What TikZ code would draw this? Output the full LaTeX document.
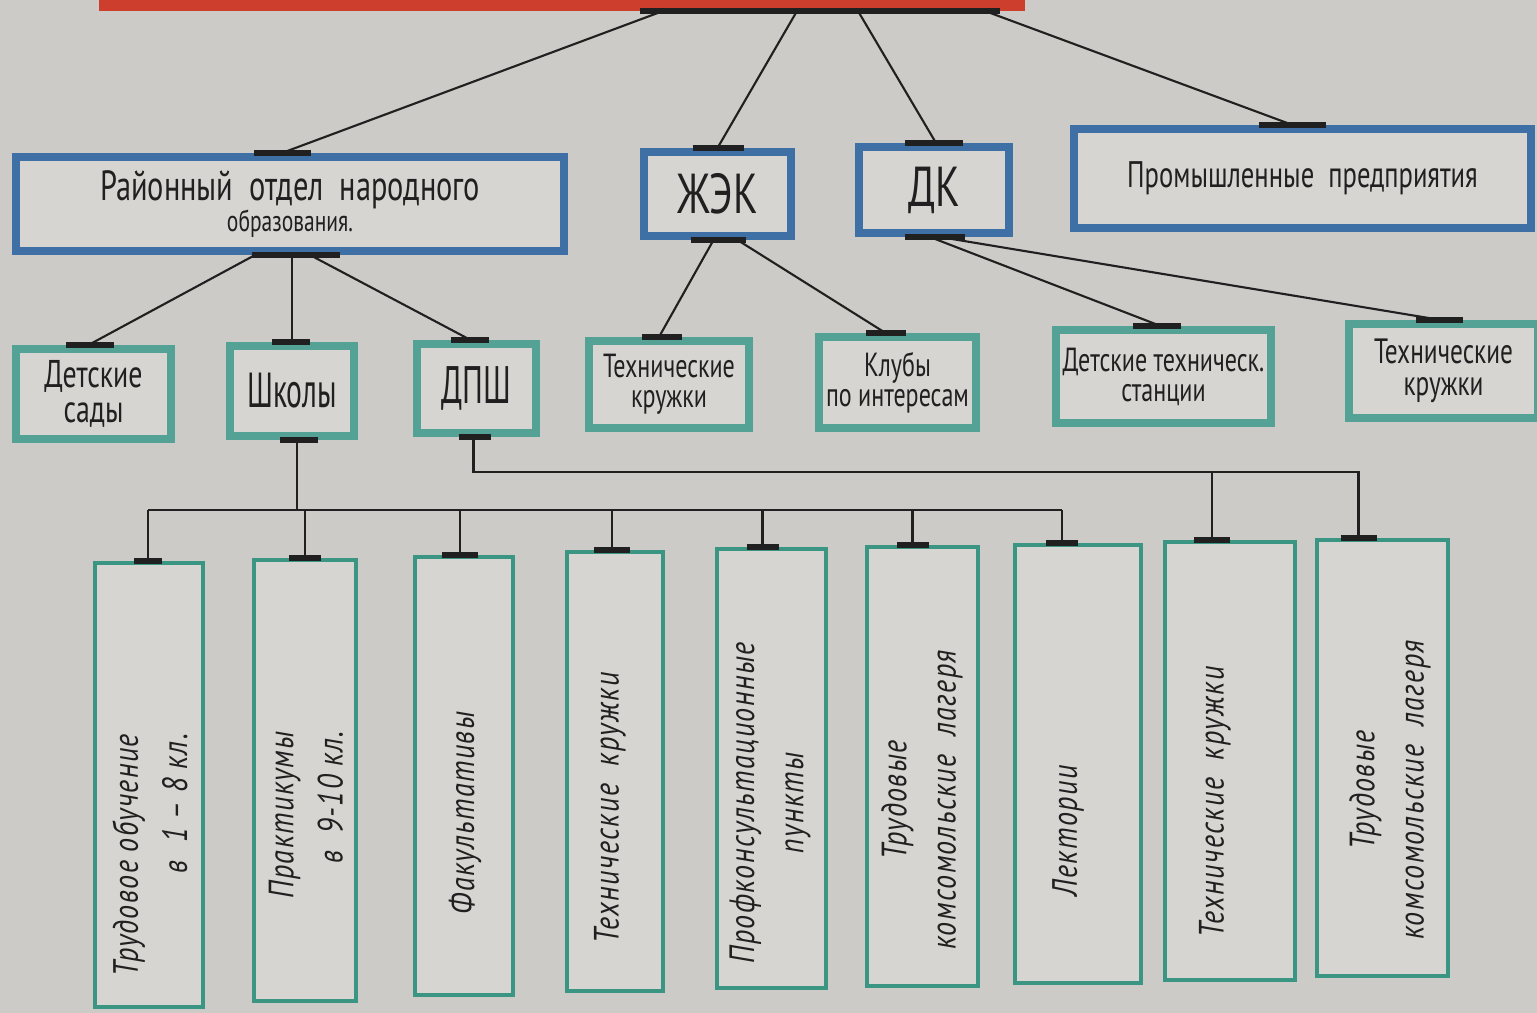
\documentclass[tikz,border=0pt]{standalone}
\usepackage{fontspec}
\setmainfont{PT Sans}[FakeStretch=0.72]
\newfontfamily\tallfont{PT Sans}[FakeStretch=0.6]
\newfontfamily\leaffont{PT Sans}[FakeStretch=0.8,LetterSpace=4]
\usetikzlibrary{calc}

\definecolor{paper}{RGB}{204,203,200}
\definecolor{boxfill}{RGB}{214,213,210}
\definecolor{headred}{RGB}{205,62,45}
\definecolor{mainblue}{RGB}{62,112,165}
\definecolor{subteal}{RGB}{84,162,150}
\definecolor{leafteal}{RGB}{58,150,130}
\definecolor{ink}{RGB}{32,32,32}

\begin{document}
\begin{tikzpicture}[
  x=0.01cm, y=-0.01cm,
  text=ink,
  headbox/.style={draw=headred, line width=0.12cm, fill=boxfill},
  mainbox/.style={
    draw=mainblue,
    line width=0.08cm,
    fill=boxfill,
    align=center,
    inner sep=0pt
  },
  subbox/.style={mainbox, draw=subteal},
  leafbox/.style={draw=leafteal, line width=0.035cm, fill=boxfill, inner sep=0pt},
  leaftext/.style={
    rotate=90,
    font=\leaffont\itshape\fontsize{10}{14}\selectfont
  },
  link/.style={draw=ink, line width=0.6pt},
  tick/.style={draw=ink, line width=1.5pt}
]
  \useasboundingbox (0,0) rectangle (1537,1013);
  \fill[paper] (0,0) rectangle (1537,1013);

  \node[headbox, minimum width=9.14cm, minimum height=0.9cm] (head) at (562,-40) {};

  \node[mainbox, minimum width=5.48cm, minimum height=0.94cm,
    font=\fontsize{12}{14}\selectfont] (rono) at (290,204)
    {Районный \ отдел \ народного\\[-5pt]{\fontsize{8.5}{10}\selectfont образования.}};
  \node[mainbox, minimum width=1.47cm, minimum height=0.84cm,
    font=\fontsize{16}{18}\selectfont] (zhek) at (717.5,194) {ЖЭК};
  \node[mainbox, minimum width=1.5cm, minimum height=0.86cm,
    font=\fontsize{16}{18}\selectfont] (dk) at (934,190) {ДК};
  \node[mainbox, minimum width=4.57cm, minimum height=0.99cm,
    font=\fontsize{10.5}{13}\selectfont] (prom) at (1302.5,178.5)
    {Промышленные \ предприятия};

  \node[subbox, minimum width=1.55cm, minimum height=0.9cm,
    font=\fontsize{11}{13}\selectfont] (sady) at (93.5,394) {Детские\\[-3pt]сады};
  \node[subbox, minimum width=1.24cm, minimum height=0.9cm,
    font=\tallfont\fontsize{14}{18}\selectfont] (shkoly) at (292,391) {Школы};
  \node[subbox, minimum width=1.19cm, minimum height=0.89cm,
    font=\tallfont\fontsize{15}{18}\selectfont] (dpsh) at (476.5,388.5) {ДПШ};
  \node[subbox, minimum width=1.6cm, minimum height=0.87cm,
    font=\fontsize{9.5}{11.5}\selectfont] (tk1) at (669,384.5) {Технические\\[-3pt]кружки};
  \node[subbox, minimum width=1.57cm, minimum height=0.91cm,
    font=\fontsize{9.5}{11.5}\selectfont] (kluby) at (897.5,382.5) {Клубы\\[-3pt]по интересам};
  \node[subbox, minimum width=2.15cm, minimum height=0.93cm,
    font=\fontsize{9.5}{11.5}\selectfont] (dts) at (1163.5,376.5) {Детские техническ.\\[-3pt]станции};
  \node[subbox, minimum width=1.89cm, minimum height=0.94cm,
    font=\fontsize{10}{12}\selectfont] (tk2) at (1443.5,371) {Технические\\[-3pt]кружки};

  \node[leafbox, minimum width=1.08cm, minimum height=4.44cm] (l1) at (149,785) {};
  \node[leafbox, minimum width=1.02cm, minimum height=4.41cm] (l2) at (305,780.5) {};
  \node[leafbox, minimum width=0.98cm, minimum height=4.38cm] (l3) at (464,776) {};
  \node[leafbox, minimum width=0.96cm, minimum height=4.39cm] (l4) at (615,771.5) {};
  \node[leafbox, minimum width=1.09cm, minimum height=4.39cm] (l5) at (771.5,768.5) {};
  \node[leafbox, minimum width=1.11cm, minimum height=4.39cm] (l6) at (922.5,766.5) {};
  \node[leafbox, minimum width=1.26cm, minimum height=4.38cm] (l7) at (1078,764) {};
  \node[leafbox, minimum width=1.3cm, minimum height=4.38cm] (l8) at (1230,761) {};
  \node[leafbox, minimum width=1.31cm, minimum height=4.36cm] (l9) at (1382.5,758) {};

  \node[leaftext, align=right] (t1) at (150,855) {Трудовое обучение\\в \ 1 – 8 кл.};
  \node[leaftext, align=right] (t2) at (306,815) {Практикумы\\в \ 9-10 кл.};
  \node[leaftext] (t3) at (465,813) {Факультативы};
  \node[leaftext] (t4) at (610,808) {Технические \ кружки};
  \node[leaftext, align=center] (t5) at (770,803) {Профконсультационные\\пункты};
  \node[leaftext, align=center] (t6) at (922,800) {Трудовые\\комсомольские \ лагеря};
  \node[leaftext] (t7) at (1068,831) {Лектории};
  \node[leaftext] (t8) at (1215,802) {Технические \ кружки};
  \node[leaftext, align=center] (t9) at (1390,790) {Трудовые\\комсомольские \ лагеря};

  \draw[tick] ($(head.south)+(78,0)$) -- +(360,0);
  \draw[link] ($(head.south)+(101,0)$) -- ($(rono.north)+(-8,0)$);
  \draw[link] ($(head.south)+(235,0)$) -- (zhek.north);
  \draw[link] ($(head.south)+(296,0)$) -- ($(dk.north)+(2,0)$);
  \draw[link] ($(head.south)+(423,0)$) -- ($(prom.north)+(-10,0)$);
  \draw[tick] ($(rono.north)+(-36,0)$) -- +(57,0);
  \draw[tick] ($(zhek.north)+(-25,0)$) -- +(51,0);
  \draw[tick] ($(dk.north)+(-29,0)$) -- +(58,0);
  \draw[tick] ($(prom.north)+(-44,0)$) -- +(67,0);

  \draw[tick] ($(rono.south)+(-38,0)$) -- +(88,0);
  \draw[link] ($(rono.south)+(-35,0)$) -- ($(sady.north)+(-5,0)$);
  \draw[link] (shkoly.north |- rono.south) -- (shkoly.north);
  \draw[link] ($(rono.south)+(20,0)$) -- ($(dpsh.north)+(-6,0)$);
  \draw[tick] ($(sady.north)+(-28,0)$) -- +(48,0);
  \draw[tick] ($(shkoly.north)+(-20,0)$) -- +(38,0);
  \draw[tick] ($(dpsh.north)+(-26,0)$) -- +(38,0);

  \draw[tick] ($(zhek.south)+(-27,0)$) -- +(55,0);
  \draw[link] ($(zhek.south)+(-4,0)$) -- ($(tk1.north)+(-10,0)$);
  \draw[link] ($(zhek.south)+(20,0)$) -- ($(kluby.north)+(-12,0)$);
  \draw[tick] ($(tk1.north)+(-27,0)$) -- +(40,0);
  \draw[tick] ($(kluby.north)+(-32,0)$) -- +(40,0);

  \draw[tick] ($(dk.south)+(-29,0)$) -- +(60,0);
  \draw[link] ($(dk.south)+(-4,0)$) -- ($(dts.north)+(-3,0)$);
  \draw[link] ($(dk.south)+(6,0)$) -- ($(tk2.north)+(-3,0)$);
  \draw[tick] ($(dts.north)+(-31,0)$) -- +(48,0);
  \draw[tick] ($(tk2.north)+(-28,0)$) -- +(47,0);

  \coordinate (bus1) at (0,510);
  \coordinate (bus2) at (0,472);
  \coordinate (d1) at ($(l1.north)+(-1,0)$);
  \coordinate (d2) at (l2.north);
  \coordinate (d3) at ($(l3.north)+(-4,0)$);
  \coordinate (d4) at ($(l4.north)+(-3,0)$);
  \coordinate (d5) at ($(l5.north)+(-9,0)$);
  \coordinate (d6) at ($(l6.north)+(-10,0)$);
  \coordinate (d7) at ($(l7.north)+(-16,0)$);
  \coordinate (d8) at ($(l8.north)+(-18,0)$);
  \coordinate (d9) at ($(l9.north)+(-24,0)$);

  \draw[tick] ($(shkoly.south)+(-12,0)$) -- +(38,0);
  \draw[link] ($(shkoly.south)+(5,0)$) coordinate (s1) -- (s1 |- bus1);
  \draw[link] (d1 |- bus1) -- (d7 |- bus1);
  \draw[link] (d1 |- bus1) -- (d1);
  \draw[link] (d2 |- bus1) -- (d2);
  \draw[link] (d3 |- bus1) -- (d3);
  \draw[link] (d4 |- bus1) -- (d4);
  \draw[link] (d5 |- bus1) -- (d5);
  \draw[link] (d6 |- bus1) -- (d6);
  \draw[link] (d7 |- bus1) -- (d7);

  \draw[tick] ($(dpsh.south)+(-18,0)$) -- +(32,0);
  \draw[link] ($(dpsh.south)+(-3,0)$) coordinate (s2)
    -- (s2 |- bus2) -- (d9 |- bus2) -- (d9);
  \draw[link] (d8 |- bus2) -- (d8);

  \draw[tick] ($(d1)+(-14,0)$) -- +(28,0);
  \draw[tick] ($(d2)+(-16,0)$) -- +(32,0);
  \draw[tick] ($(d3)+(-18,0)$) -- +(36,0);
  \draw[tick] ($(d4)+(-18,0)$) -- +(36,0);
  \draw[tick] ($(d5)+(-16,0)$) -- +(32,0);
  \draw[tick] ($(d6)+(-16,0)$) -- +(32,0);
  \draw[tick] ($(d7)+(-16,0)$) -- +(32,0);
  \draw[tick] ($(d8)+(-18,0)$) -- +(36,0);
  \draw[tick] ($(d9)+(-18,0)$) -- +(36,0);
\end{tikzpicture}
\end{document}
